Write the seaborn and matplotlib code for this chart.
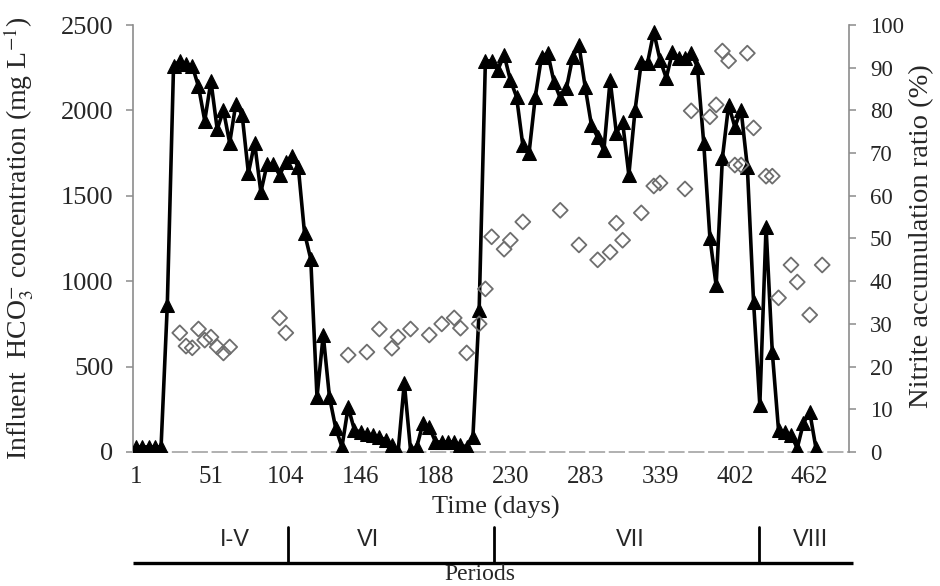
import matplotlib
matplotlib.use('Agg')
import matplotlib.pyplot as plt
import matplotlib.transforms as mtransforms
import pandas as pd
import seaborn as sns

# ---- data (x = sample index on a category axis) ----
hco3_idx = list(range(110))
hco3_values = [30, 30, 30, 30, 30, 861, 2260, 2290, 2270, 2260,
               2140, 1940, 2170, 1890, 2000, 1810, 2040, 1973, 1633, 1809,
               1522, 1685, 1685, 1622, 1695, 1735, 1669, 1282, 1130, 322,
               685, 322, 140, 30, 263, 129, 117, 105, 100, 88,
               70, 41, 0, 404, 12, 30, 170, 146, 59, 59,
               59, 59, 40, 30, 88, 831, 2290, 2290, 2237, 2325,
               2178, 2079, 1797, 1751, 2079, 2313, 2336, 2166, 2073, 2131,
               2313, 2383, 2137, 1914, 1844, 1768, 2178, 1868, 1932, 1622,
               2002, 2283, 2278, 2459, 2295, 2190, 2342, 2307, 2307, 2336,
               2254, 1812, 1253, 975, 1721, 2032, 1903, 2002, 1669, 878,
               275, 1317, 585, 129, 117, 100, 23, 170, 234, 23]

nar_idx = [7, 8, 9, 10, 11, 12, 13, 14, 15, 23, 24, 34, 37, 39, 41, 42, 44, 47,
           49, 51, 52, 53, 55, 56, 57, 59, 60, 62, 68, 71, 74, 76, 77, 78, 81,
           83, 84, 88, 89, 92, 93, 94, 95, 96, 97, 98, 99, 101, 102, 103, 105,
           106, 108, 110]
nar_values = [27.9, 24.8, 24.4, 28.8, 26.2, 26.9, 24.6, 23.2, 24.6, 31.4, 27.9,
              22.7, 23.4, 28.8, 24.3, 26.9, 28.8, 27.4, 30.0, 31.4, 29.0, 23.2,
              30.0, 38.2, 50.4, 47.5, 49.6, 53.9, 56.6, 48.5, 45.0, 46.8, 53.6,
              49.6, 56.0, 62.3, 63.0, 61.6, 79.9, 78.5, 81.3, 93.9, 91.6, 67.2,
              67.2, 93.4, 75.9, 64.6, 64.6, 36.1, 43.8, 39.8, 32.1, 43.8]

tick_positions = [0, 12, 24, 36, 48, 60, 72, 84, 96, 108]
tick_labels = ['1', '51', '104', '146', '188', '230', '283', '339', '402', '462']

period_bounds = [24.4, 57.4, 99.8]
period_names = ['I-V', 'VI', 'VII', 'VIII']
period_label_pos = [15.8, 37.2, 79.2, 108.2]
period_span = [-0.5, 114.9]

df_hco3 = pd.DataFrame({'idx': hco3_idx, 'hco3': hco3_values})
df_nar = pd.DataFrame({'idx': nar_idx, 'nar': nar_values})

# ---- style ----
sns.set_style('white')
plt.rcParams['font.family'] = ['Liberation Serif', 'DejaVu Serif']
plt.rcParams['mathtext.fontset'] = 'stix'

W, H = 940, 586
fig = plt.figure(figsize=(W / 100, H / 100), dpi=100)
ax = fig.add_axes([133 / W, 1 - 452 / H, (849 - 133) / W, (452 - 25) / H])
ax2 = ax.twinx()

sns.lineplot(data=df_hco3, x='idx', y='hco3', ax=ax, color='black',
             linewidth=2.6, marker='^', markersize=10.5,
             markeredgecolor='black', markerfacecolor='black', zorder=3)
sns.scatterplot(data=df_nar, x='idx', y='nar', ax=ax2, marker='D', s=58,
                facecolor='none', edgecolor='#6e6e6e', linewidth=1.3, zorder=2)

ax.set_xlim(-0.5, 114.3)
ax.set_ylim(0, 2500)
ax2.set_ylim(0, 100)
ax.set_yticks(range(0, 2501, 500))
ax2.set_yticks(range(0, 101, 10))
ax.set_xticks(tick_positions)
ax.set_xticklabels(tick_labels)

spine_c = '#8c8c8c'
for s in ['top', 'right']:
    ax.spines[s].set_visible(False)
for s in ['top', 'left', 'bottom']:
    ax2.spines[s].set_visible(False)
ax.spines['left'].set_color(spine_c)
ax.spines['left'].set_linewidth(1.2)
ax2.spines['right'].set_color(spine_c)
ax2.spines['right'].set_linewidth(1.2)
ax.spines['bottom'].set_color('#aaaaaa')
ax.spines['bottom'].set_linewidth(1.3)
ax.spines['bottom'].set_linestyle((0, (8, 3)))

ax.tick_params(axis='y', direction='out', length=5, width=1.1, color=spine_c,
               labelsize=19, pad=9, left=True)
ax.tick_params(axis='x', length=0, labelsize=18, pad=10)
ax2.tick_params(axis='y', direction='out', length=5, width=1.1, color=spine_c,
                labelsize=16.5, pad=10, right=True)
ax.grid(False)
ax2.grid(False)

ax.set_ylabel('Influent  HCO$_3^{-}$ concentration (mg L$^{-1}$)', fontsize=20)
ax.yaxis.set_label_coords(-0.1355, 0.5)
ax2.set_ylabel('Nitrite accumulation ratio (%)', fontsize=20.5)
ax2.yaxis.set_label_coords(1.0845, 0.505)
ax.set_xlabel('Time (days)', fontsize=19)
ax.xaxis.set_label_coords(0.507, -0.103)

# ---- periods bar below the axis ----
tr = mtransforms.blended_transform_factory(ax.transData, fig.transFigure)
y_line = 1 - 563 / H
y_top = 1 - 527 / H
ax.plot(period_span, [y_line, y_line], transform=tr, color='black',
        linewidth=2.4, clip_on=False, solid_capstyle='butt')
for b in period_bounds:
    ax.plot([b, b], [y_line, y_top], transform=tr, color='black',
            linewidth=2.0, clip_on=False)
for name, p in zip(period_names, period_label_pos):
    ax.text(p, 1 - 540 / H, name, transform=tr, ha='center', va='center',
            fontsize=17, family=['Liberation Sans', 'DejaVu Sans'])
fig.text(480 / W, 0.5 / H, 'Periods', ha='center', va='bottom', fontsize=17)

fig.savefig('out.png', dpi=100)
